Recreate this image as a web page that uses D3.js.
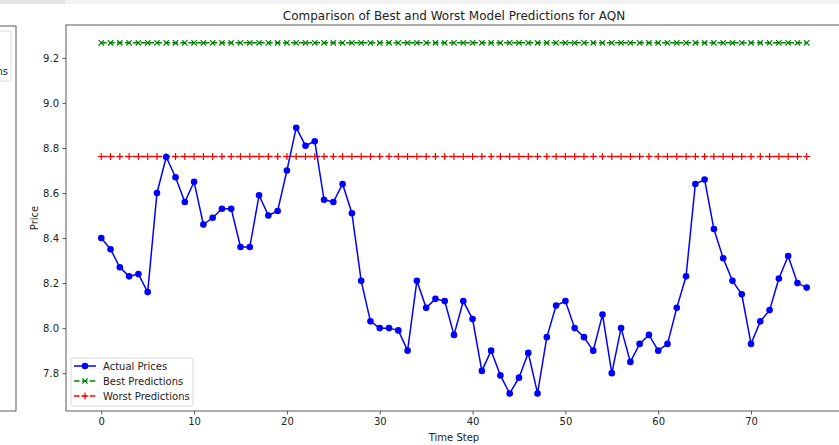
<!DOCTYPE html>
<html>
<head>
<meta charset="utf-8">
<script src="https://cdn.jsdelivr.net/npm/d3@7"></script>
<style>
  body { margin: 0; background: #fff; }
  svg { display: block; font-family: "DejaVu Sans", sans-serif; }
</style>
</head>
<body>
<div id="chart"></div>
<script>
(function() {
	// values
	var actualPrices = [
		8.40, 8.35, 8.27, 8.23, 8.24, 8.16, 8.60, 8.76, 8.67, 8.56,
		8.65, 8.46, 8.49, 8.53, 8.53, 8.36, 8.36, 8.59, 8.50, 8.52,
		8.70, 8.89, 8.81, 8.83, 8.57, 8.56, 8.64, 8.51, 8.21, 8.03,
		8.00, 8.00, 7.99, 7.90, 8.21, 8.09, 8.13, 8.12, 7.97, 8.12,
		8.04, 7.81, 7.90, 7.79, 7.71, 7.78, 7.89, 7.71, 7.96, 8.10,
		8.12, 8.00, 7.96, 7.90, 8.06, 7.80, 8.00, 7.85, 7.93, 7.97,
		7.90, 7.93, 8.09, 8.23, 8.64, 8.66, 8.44, 8.31, 8.21, 8.15,
		7.93, 8.03, 8.08, 8.22, 8.32, 8.20, 8.18
	];
	var bestValue = 9.267;
	var worstValue = 8.762;
	var xTicks = [0, 10, 20, 30, 40, 50, 60, 70];
	var yTicks = [7.8, 8.0, 8.2, 8.4, 8.6, 8.8, 9.0, 9.2];
	var legendLabels = ["Actual Prices", "Best Predictions", "Worst Predictions"];

	var steps = actualPrices.map(function(d, i) { return i; });
	var bestPredictions = steps.map(function() { return bestValue; });
	var worstPredictions = steps.map(function() { return worstValue; });

	var width = 839, height = 445;
	var left = 66, right = 842, top = 25, bottom = 411;

	var svg = d3.select("#chart")
		.append("svg")
		.attr("width", width)
		.attr("height", height);

	// light strip at the top of the screenshot
	svg.append("rect").attr("x", 0).attr("y", 0).attr("width", width).attr("height", 4).attr("fill", "#f2f2f2");
	svg.append("rect").attr("x", 0).attr("y", 0).attr("width", 65).attr("height", 4).attr("fill", "#e4e4e4");

	// the cut-off neighbour panel on the left
	svg.append("rect")
		.attr("x", -100).attr("y", 26).attr("width", 116).attr("height", 385)
		.attr("fill", "none").attr("stroke", "#333").attr("stroke-width", 0.8);
	svg.append("rect")
		.attr("x", -80).attr("y", 31).attr("width", 91).attr("height", 50).attr("rx", 2)
		.attr("fill", "#fff").attr("stroke", "#d0d0d0").attr("stroke-width", 0.8);
	svg.append("text")
		.attr("x", 8).attr("y", 75)
		.attr("text-anchor", "end")
		.attr("font-size", 10).attr("fill", "#222")
		.text("Worst Predictions");

	var xScale = d3.scaleLinear()
		.domain([-3.8, 79.8])
		.range([left, right]);

	var yScale = d3.scaleLinear()
		.domain([7.632, 9.346])
		.range([bottom, top]);

	// axes
	var xAxis = d3.axisBottom(xScale).tickValues(xTicks).tickSize(3.5).tickPadding(3.5);
	var yAxis = d3.axisLeft(yScale).tickValues(yTicks).tickSize(3.5).tickPadding(3.5)
		.tickFormat(d3.format(".1f"));

	var gx = svg.append("g")
		.attr("transform", "translate(0," + bottom + ")")
		.call(xAxis);
	var gy = svg.append("g")
		.attr("transform", "translate(" + left + ",0)")
		.call(yAxis);

	[gx, gy].forEach(function(g) {
		g.select(".domain").remove();
		g.selectAll("line").attr("stroke", "#333").attr("stroke-width", 0.8);
		g.selectAll("text").attr("font-size", 10).attr("fill", "#222")
			.attr("font-family", "DejaVu Sans, sans-serif");
	});

	// frame
	svg.append("rect")
		.attr("x", left).attr("y", top)
		.attr("width", right - left).attr("height", bottom - top)
		.attr("fill", "none").attr("stroke", "#333").attr("stroke-width", 0.8);

	var plot = svg.append("g");

	var line = d3.line()
		.x(function(d, i) { return xScale(steps[i]); })
		.y(function(d) { return yScale(d); });

	// best predictions
	plot.append("path")
		.datum(bestPredictions)
		.attr("d", line)
		.attr("fill", "none").attr("stroke", "#008000").attr("stroke-width", 1.5)
		.attr("stroke-dasharray", "5.5,2.4");
	plot.selectAll(".bestMark")
		.data(bestPredictions)
		.enter()
		.append("path")
		.attr("class", "bestMark")
		.attr("transform", function(d, i) { return "translate(" + xScale(steps[i]) + "," + yScale(d) + ")"; })
		.attr("d", "M-2.7,-2.7L2.7,2.7M-2.7,2.7L2.7,-2.7")
		.attr("stroke", "#008000").attr("stroke-width", 1.2);

	// worst predictions
	plot.append("path")
		.datum(worstPredictions)
		.attr("d", line)
		.attr("fill", "none").attr("stroke", "#ff0000").attr("stroke-width", 1.5)
		.attr("stroke-dasharray", "5.5,2.4");
	plot.selectAll(".worstMark")
		.data(worstPredictions)
		.enter()
		.append("path")
		.attr("class", "worstMark")
		.attr("transform", function(d, i) { return "translate(" + xScale(steps[i]) + "," + yScale(d) + ")"; })
		.attr("d", "M-3.5,0L3.5,0M0,-3.5L0,3.5")
		.attr("stroke", "#ff0000").attr("stroke-width", 1.2);

	// actual prices
	plot.append("path")
		.datum(actualPrices)
		.attr("d", line)
		.attr("fill", "none").attr("stroke", "#0000ff").attr("stroke-width", 1.5);
	plot.selectAll(".actualDot")
		.data(actualPrices)
		.enter()
		.append("circle")
		.attr("class", "actualDot")
		.attr("cx", function(d, i) { return xScale(steps[i]); })
		.attr("cy", function(d) { return yScale(d); })
		.attr("r", 3.3)
		.attr("fill", "#0000ff");

	// title and axis labels
	svg.append("text")
		.attr("x", (left + right) / 2).attr("y", 20)
		.attr("text-anchor", "middle")
		.attr("font-size", 12).attr("fill", "#222")
		.text("Comparison of Best and Worst Model Predictions for AQN");
	svg.append("text")
		.attr("x", (left + right) / 2).attr("y", 441)
		.attr("text-anchor", "middle")
		.attr("font-size", 10).attr("fill", "#222")
		.text("Time Step");
	svg.append("text")
		.attr("transform", "translate(38," + (top + bottom) / 2 + ") rotate(-90)")
		.attr("text-anchor", "middle")
		.attr("font-size", 10).attr("fill", "#222")
		.text("Price");

	// legend
	var legend = svg.append("g").attr("transform", "translate(71,358)");
	legend.append("rect")
		.attr("width", 122).attr("height", 48).attr("rx", 2)
		.attr("fill", "#fff").attr("fill-opacity", 0.8)
		.attr("stroke", "#d0d0d0").attr("stroke-width", 0.8);
	var colors = ["#0000ff", "#008000", "#ff0000"];
	legendLabels.forEach(function(label, i) {
		var row = legend.append("g").attr("transform", "translate(0," + (8 + i * 15) + ")");
		var ln = row.append("line")
			.attr("x1", 3).attr("x2", 25).attr("y1", 0).attr("y2", 0)
			.attr("stroke", colors[i]).attr("stroke-width", 1.5);
		if (i > 0) ln.attr("stroke-dasharray", "5.5,2.4");
		if (i === 0) {
			row.append("circle").attr("cx", 14).attr("cy", 0).attr("r", 3.3).attr("fill", colors[i]);
		} else if (i === 1) {
			row.append("path").attr("transform", "translate(14,0)")
				.attr("d", "M-2.7,-2.7L2.7,2.7M-2.7,2.7L2.7,-2.7")
				.attr("stroke", colors[i]).attr("stroke-width", 1.2);
		} else {
			row.append("path").attr("transform", "translate(14,0)")
				.attr("d", "M-3.5,0L3.5,0M0,-3.5L0,3.5")
				.attr("stroke", colors[i]).attr("stroke-width", 1.2);
		}
		row.append("text")
			.attr("x", 32).attr("y", 3.6)
			.attr("font-size", 10).attr("fill", "#222")
			.text(label);
	});
})();
</script>
</body>
</html>
